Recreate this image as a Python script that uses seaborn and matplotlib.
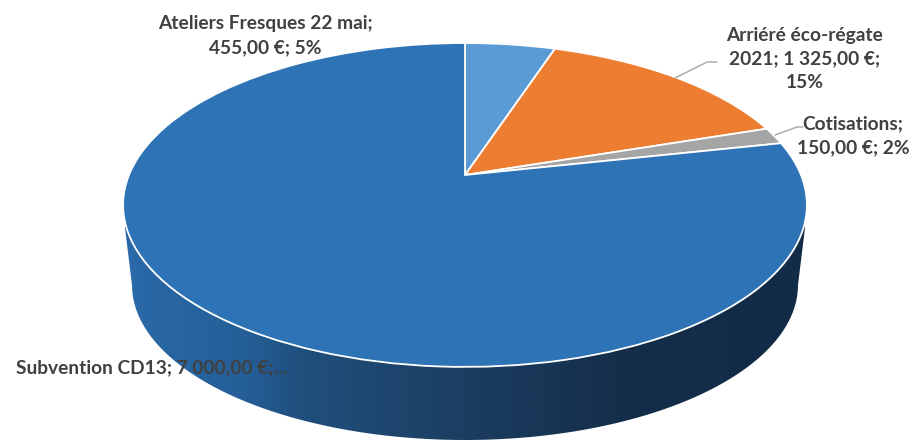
import numpy as np
import seaborn as sns
import matplotlib
matplotlib.use("Agg")
import matplotlib.pyplot as plt
from matplotlib.colors import LinearSegmentedColormap
from matplotlib.patches import PathPatch
from matplotlib.path import Path

# Data
categories = ["Ateliers Fresques 22 mai", "Arriéré éco-régate 2021", "Cotisations", "Subvention CD13"]
values = [455, 1325, 150, 7000]
colors = ["#5B9BD5", "#ED7D31", "#A5A5A5", "#2E73B5"]
label_texts = ["Ateliers Fresques 22 mai;\n455,00 €; 5%",
               "Arriéré éco-régate\n2021; 1 325,00 €;\n15%",
               "Cotisations;\n150,00 €; 2%",
               "Subvention CD13; 7 000,00 €;..."]
wall_stops = [(0.0, "#2A6AA8"), (0.18, "#245E97"), (0.26, "#204F7C"),
              (0.51, "#1B3D60"), (0.76, "#142C47"), (1.0, "#122C48")]

sns.set_theme(style="white")
plt.rcParams["font.family"] = ["Lato", "DejaVu Sans"]

fig, ax = plt.subplots(figsize=(9.12, 4.4), dpi=100)
fig.subplots_adjust(0, 0, 1, 1)

wedges, _ = ax.pie(values, colors=sns.color_palette(colors), startangle=90, counterclock=False)


# tilt the flat pie: perspective, apex sits above the middle of the ellipse
def tilt(xy, cx=465, cy=175, a=336, b=156.4, k=0.185):
    x, y = xy[:, 0], xy[:, 1]
    w = 1 + k * y
    return np.column_stack([cx + a * x / w, cy - b * y / w])


top_paths = []
for w in wedges:
    p = w.get_patch_transform().transform_path(w.get_path())
    top_paths.append((Path(tilt(p.vertices), p.codes), w.get_facecolor()))
    w.remove()

ax.set_aspect("auto")
ax.set_xlim(0, 912)
ax.set_ylim(440, 0)
ax.axis("off")

# side wall with horizontal gradient
t = np.radians(np.linspace(180, 0, 200))
wall_xy = np.column_stack([465 + 333 * np.cos(t), 285 + 155 * np.sin(t)])
wall_xy = np.vstack([[[123, 205], [125, 228]], wall_xy, [[805, 228], [807, 205]]])
cmap = LinearSegmentedColormap.from_list("wall", wall_stops)
grad = np.linspace(0, 1, 512).reshape(1, -1)
im = ax.imshow(grad, cmap=cmap, extent=(125, 805, 440, 200), aspect="auto", zorder=1)
im.set_clip_path(PathPatch(Path(wall_xy), transform=ax.transData))
ax.set_xlim(0, 912)
ax.set_ylim(440, 0)

# top face
for path, col in top_paths:
    ax.add_patch(PathPatch(path, facecolor=col, edgecolor="white", lw=1.3, zorder=2))

# leader lines
ax.plot([675, 707, 717], [78, 62, 62], color="#A6A6A6", lw=1, zorder=3)
ax.plot([775, 797, 803], [135, 127, 127], color="#A6A6A6", lw=1, zorder=3)

# labels
txt = dict(fontsize=13.8, fontweight="bold", color="#404040", zorder=4, linespacing=1.5)
ax.text(265, 36, label_texts[0], ha="center", va="center", **txt)
ax.text(805, 59, label_texts[1], ha="center", va="center", **txt)
ax.text(853, 136, label_texts[2], ha="center", va="center", **txt)
ax.text(16, 368, label_texts[3], ha="left", va="center", **txt)

fig.savefig("out.png", dpi=100)
